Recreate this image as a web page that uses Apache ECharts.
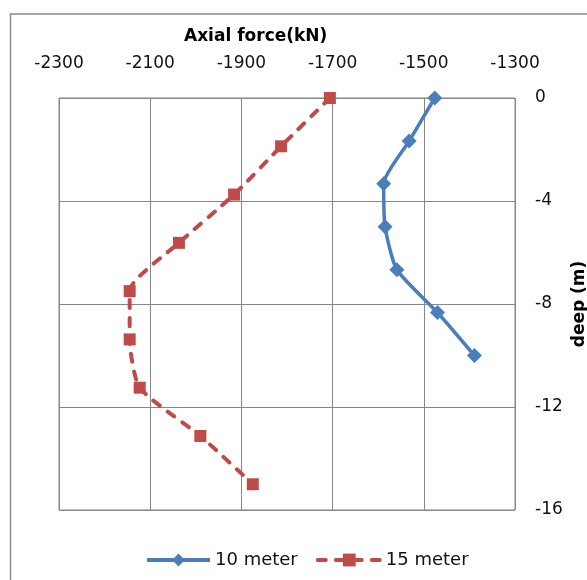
<!DOCTYPE html>
<html>
<head>
<meta charset="utf-8">
<script src="https://cdn.jsdelivr.net/npm/echarts@6/dist/echarts.min.js"></script>
<style>
html,body{margin:0;padding:0;background:#fff;}
#chart{width:587px;height:580px;}
</style>
</head>
<body>
<div id="chart"></div>
<script>
// Data
const xTitle = 'Axial force(kN)';
const yTitle = 'deep (m)';
const seriesNames = ['10 meter', '15 meter'];
const depth10 = [0, -1.67, -3.33, -5, -6.67, -8.33, -10];
const force10 = [-1476, -1532, -1588, -1585, -1559, -1470, -1389];
const depth15 = [0, -1.875, -3.75, -5.625, -7.5, -9.375, -11.25, -13.125, -15];
const force15 = [-1706, -1813, -1916, -2037, -2145, -2145, -2123, -1990, -1875];
const xMin = -2300, xMax = -1300, xStep = 200;
const yMin = -16, yMax = 0, yStep = 4;

const FONT = 'DejaVu Sans';
const gridColor = '#868686';

const chart = echarts.init(document.getElementById('chart'), null, {renderer: 'canvas'});
chart.setOption({
  backgroundColor: '#fff',
  animation: false,
  title: {
    text: xTitle,
    left: 179,
    top: 23,
    textStyle: {fontFamily: FONT, fontSize: 17, fontWeight: 'bold', color: '#000'}
  },
  legend: {
    data: seriesNames,
    left: 140,
    top: 546,
    itemWidth: 63,
    itemHeight: 16,
    itemGap: 18,
    lineStyle: {width: 4},
    textStyle: {fontFamily: FONT, fontSize: 18, color: '#111'}
  },
  graphic: [{
    type: 'rect',
    shape: {x: 10.5, y: 14, width: 800, height: 800},
    style: {fill: 'none', stroke: '#8c8c8c', lineWidth: 1.5},
    silent: true,
    z: -1
  }, {
    type: 'text',
    x: 580,
    y: 304,
    rotation: Math.PI / 2,
    style: {
      text: yTitle,
      fontFamily: FONT, fontSize: 17, fontWeight: 'bold', fill: '#000',
      align: 'center', verticalAlign: 'middle'
    },
    silent: true
  }],
  grid: {
    left: 59, right: 72, top: 98, bottom: 70,
    show: true, borderColor: gridColor, borderWidth: 1,
    containLabel: false,
    outerBoundsMode: 'none'
  },
  xAxis: {
    type: 'value',
    position: 'top',
    min: xMin, max: xMax, interval: xStep,
    axisLine: {show: false},
    axisTick: {show: false},
    splitLine: {show: true, lineStyle: {color: gridColor, width: 1}},
    axisLabel: {fontFamily: FONT, fontSize: 17, color: '#111', margin: 26,
      formatter: v => String(v)}
  },
  yAxis: {
    type: 'value',
    position: 'right',
    min: yMin, max: yMax, interval: yStep,
    axisLine: {show: false},
    axisTick: {show: false},
    splitLine: {show: true, lineStyle: {color: gridColor, width: 1}},
    axisLabel: {fontFamily: FONT, fontSize: 17, color: '#111', margin: 20,
      formatter: v => String(v)}
  },
  series: [{
    name: seriesNames[0],
    type: 'line',
    data: force10.map((v, i) => [v, depth10[i]]),
    smooth: 0.2,
    symbol: 'diamond',
    symbolSize: 15,
    itemStyle: {color: '#4a7ebb'},
    lineStyle: {color: '#4a7ebb', width: 3.5}
  }, {
    name: seriesNames[1],
    type: 'line',
    data: force15.map((v, i) => [v, depth15[i]]),
    smooth: 0.2,
    symbol: 'rect',
    symbolSize: 12,
    itemStyle: {color: '#be4b48'},
    lineStyle: {color: '#be4b48', width: 4, type: [8, 10], cap: 'round'}
  }]
});
</script>
</body>
</html>
